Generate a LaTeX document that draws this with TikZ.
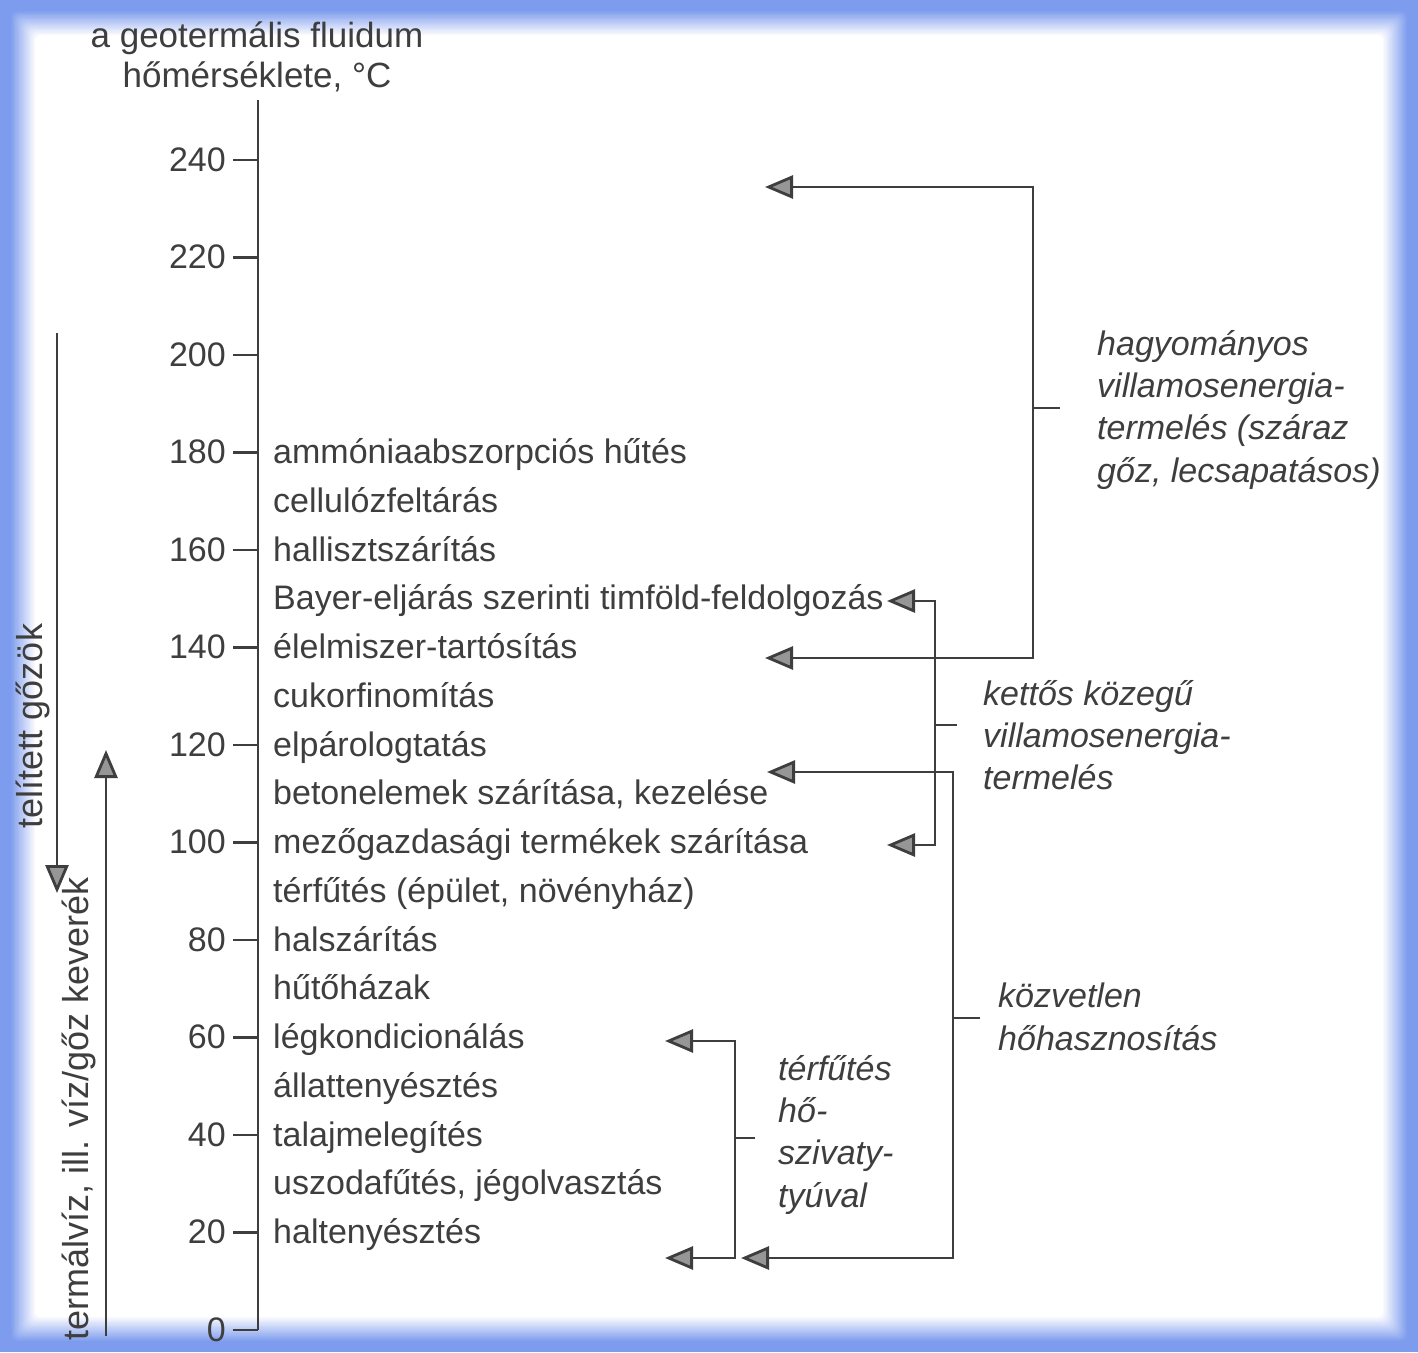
\documentclass[tikz,border=0pt]{standalone}
\usepackage{fontspec}
\setmainfont{Liberation Sans}
\usetikzlibrary{arrows.meta,positioning}

\definecolor{framebl}{RGB}{126,156,238}
\definecolor{ink}{RGB}{62,62,62}
\definecolor{tipgray}{RGB}{150,150,150}

\tikzset{
	lbl/.style={font=\fontsize{34}{41}\selectfont, text=ink, inner sep=0pt, text height=25pt, text depth=7pt},
	sidelbl/.style={lbl, font=\fontsize{36}{43}\selectfont, rotate=90},
	note/.style={font=\fontsize{34}{42.3}\selectfont\itshape, text=ink, inner sep=0pt, align=left, anchor=north west},
	axisline/.style={draw=ink, line width=2.8pt},
	flow/.style={draw=ink, line width=2.8pt, -{Triangle[length=28pt,width=23pt,fill=tipgray]}},
	bracket/.style={draw=ink, line width=2.8pt, {Triangle[length=28pt,width=23pt,fill=tipgray]}-{Triangle[length=28pt,width=23pt,fill=tipgray]}},
}

\begin{document}
\begin{tikzpicture}[x=1pt,y=-1pt]
	% frame
	\fill[framebl] (0,0) rectangle (1418,1352);
	\foreach \i in {0,...,20} {
		\pgfmathsetmacro\ins{10+1.25*\i}
		\pgfmathsetmacro\mix{100-5*\i}
		\fill[framebl!\mix!white, rounded corners=6pt] (\ins,\ins) rectangle (1418-\ins,1352-\ins);}
	\useasboundingbox (0,0) rectangle (1418,1352);

	% temperature axis
	\node[font=\fontsize{35}{40}\selectfont, text=ink, inner sep=0pt, align=center, anchor=north] (title) at (257,22) {a geotermális fluidum\\hőmérséklete, °C};
	\coordinate (axtop) at (258,100);
	\coordinate (axbot) at (258,1330);
	\draw[axisline] (axtop) -- (axbot);
	\foreach \t in {0,20,...,240} {
		\draw[axisline] (233,{1330-4.875*\t}) -- (258,{1330-4.875*\t});
		\node[lbl, anchor=east] (tick\t) at (226,{1332-4.875*\t}) {\t};}

	% uses
	\foreach \txt [count=\i from 0] in {ammóniaabszorpciós hűtés, cellulózfeltárás, hallisztszárítás,
		Bayer-eljárás szerinti timföld-feldolgozás, élelmiszer-tartósítás, cukorfinomítás, elpárologtatás,
		{betonelemek szárítása, kezelése}, mezőgazdasági termékek szárítása, {térfűtés (épület, növényház)},
		halszárítás, hűtőházak, légkondicionálás, állattenyésztés, talajmelegítés,
		{uszodafűtés, jégolvasztás}, haltenyésztés} {
		\node[lbl, anchor=west] (item\i) at (273,{1332-4.875*(180-10*\i)}) {\txt};}

	% fluid state
	\node[sidelbl] (steam) at (33,726) {telített gőzök};
	\node[sidelbl] (water) at (79,1109) {termálvíz, ill. víz/gőz keverék};
	\coordinate (steamA) at (57,333);
	\coordinate (steamB) at (57,893);
	\coordinate (waterA) at (106,1336);
	\coordinate (waterB) at (106,750);
	\draw[flow] (steamA) -- (steamB);
	\draw[flow] (waterA) -- (waterB);

	% ranges
	\node[note] (hagy) at (1097,330) {hagyományos\\villamosenergia-\\termelés (száraz\\gőz, lecsapatásos)};
	\node[note] (kett) at (983,680) {kettős közegű\\villamosenergia-\\termelés};
	\node[note] (kozv) at (998,983) {közvetlen\\hőhasznosítás};
	\node[note] (terf) at (778,1055) {térfűtés\\hő-\\szivaty-\\tyúval};

	\coordinate (hagyT) at (765,187);
	\coordinate (hagyB) at (765,658);
	\coordinate (kettT) at (887,601);
	\coordinate (kettB) at (887,845);
	\coordinate (kozvT) at (767,772);
	\coordinate (kozvB) at (741,1258);
	\coordinate (terfT) at (665,1041);
	\coordinate (terfB) at (665,1258);

	\draw[bracket] (hagyT) -| (1033,420) |- (hagyB);
	\draw[axisline] (1033,408) -- (1060,408);
	\draw[bracket] (kettT) -| (935,720) |- (kettB);
	\draw[axisline] (935,725) -- (957,725);
	\draw[bracket] (kozvT) -| (953,1000) |- (kozvB);
	\draw[axisline] (953,1018) -- (980,1018);
	\draw[bracket] (terfT) -| (735,1150) |- (terfB);
	\draw[axisline] (735,1138) -- (755,1138);
\end{tikzpicture}
\end{document}
